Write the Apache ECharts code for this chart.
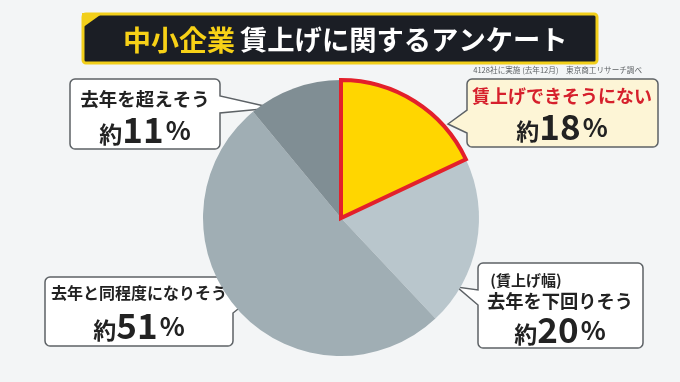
<!DOCTYPE html>
<html><head><meta charset="utf-8">
<script src="https://cdn.jsdelivr.net/npm/echarts@6/dist/echarts.min.js"></script>
<style>html,body{margin:0;padding:0;background:#f3f5f6}#c{width:680px;height:382px}</style>
</head><body><div id="c"></div>
<script>
// ---- data (clockwise from 12 o'clock) ----
var categories = ['賃上げできそうにない', '去年を下回りそう', '去年と同程度になりそう', '去年を超えそう'];
var prefixes   = ['', '(賃上げ幅)', '', ''];
var values     = [18, 20, 51, 11];
var titleMain  = '中小企業';
var titleSub   = '賃上げに関するアンケート';
var sourceText = '4128社に実施 (去年12月)　東京商工リサーチ調べ';

// ---- styles / layout ----
var sliceColors = ['#ffd600', '#b9c6cc', '#a0aeb4', '#808e94'];
var nameStyle   = ['r', 'n2', 's', 'n'];
var labelPos    = [[562, 114], [560, 309], [139, 311], [145, 117]];
var FONT = '"Noto Sans CJK JP", "Noto Sans", sans-serif';

var bubbles = [
  {x0: 467, y0: 79, x1: 658, y1: 147, side: 'left',  t0: 110, t1: 133, tx: 448, ty: 124, fill: '#fdf5d6'},
  {x0: 478, y0: 263, x1: 643, y1: 348, side: 'left', t0: 290, t1: 305, tx: 457, ty: 287, fill: '#ffffff'},
  {x0: 45, y0: 277, x1: 233, y1: 346, side: 'right', t0: 290, t1: 313, tx: 277, ty: 278, fill: '#ffffff'},
  {x0: 70, y0: 79, x1: 220, y1: 149, side: 'right',  t0: 96, t1: 113, tx: 273, ty: 108, fill: '#ffffff'}
];

function corner(pts, cx, cy, r, a0, a1) {
  for (var k = 0; k <= 4; k++) {
    var a = (a0 + (a1 - a0) * k / 4) * Math.PI / 180;
    pts.push([cx + r * Math.cos(a), cy + r * Math.sin(a)]);
  }
}
function bubblePoints(b) {
  var r = 5, pts = [];
  corner(pts, b.x1 - r, b.y0 + r, r, -90, 0);
  if (b.side === 'right') { pts.push([b.x1, b.t0]); pts.push([b.tx, b.ty]); pts.push([b.x1, b.t1]); }
  corner(pts, b.x1 - r, b.y1 - r, r, 0, 90);
  corner(pts, b.x0 + r, b.y1 - r, r, 90, 180);
  if (b.side === 'left') { pts.push([b.x0, b.t1]); pts.push([b.tx, b.ty]); pts.push([b.x0, b.t0]); }
  corner(pts, b.x0 + r, b.y0 + r, r, 180, 270);
  return pts;
}

var graphics = [
  {type: 'rect', shape: {x: 83, y: 14, width: 514, height: 49, r: 3},
   style: {fill: '#1b1e25', stroke: '#f2cf1a', lineWidth: 3}, z: 0},
  {type: 'polygon', shape: {points: [[82, 13], [103, 13], [82, 28]]},
   style: {fill: '#f2cf1a'}, z: 1}
];
bubbles.forEach(function (b) {
  graphics.push({type: 'polygon', shape: {points: bubblePoints(b)},
    style: {fill: b.fill, stroke: '#5d6266', lineWidth: 1.5, lineJoin: 'miter'}, z: 0});
});

// rotate so the highlighted slice is drawn last (on top), keeping clockwise order from 12 o'clock
var total = values.reduce(function (a, v) { return a + v; }, 0);
var order = [1, 2, 3, 0];
var startAngle = 90 - 360 * values[0] / total;
var seriesData = order.map(function (i) {
  var item = {
    name: categories[i], value: values[i], idx: i,
    itemStyle: {color: sliceColors[i], borderWidth: 0}
  };
  if (i === 0) item.itemStyle = {color: sliceColors[0], borderColor: '#e3202b', borderWidth: 4, borderJoin: 'miter'};
  return item;
});

var numRich = {
  y:  {fontFamily: FONT, fontWeight: 'bold', fontSize: 23, color: '#222', lineHeight: 36, verticalAlign: 'bottom', padding: [0, 0, 2, 0]},
  v:  {fontFamily: FONT, fontWeight: 'bold', fontSize: 35, color: '#222', lineHeight: 36},
  pc: {fontFamily: FONT, fontWeight: 'bold', fontSize: 26, color: '#222', lineHeight: 36, padding: [0, 0, 0, 2]},
  n:  {fontFamily: FONT, fontWeight: 'bold', fontSize: 18.5, color: '#222', lineHeight: 26},
  r:  {fontFamily: FONT, fontWeight: 'bold', fontSize: 18, color: '#d6202c', lineHeight: 26},
  s:  {fontFamily: FONT, fontWeight: 'bold', fontSize: 16, color: '#222', lineHeight: 30},
  n2: {fontFamily: FONT, fontWeight: 'bold', fontSize: 18.3, color: '#222', lineHeight: 22},
  p:  {fontFamily: FONT, fontWeight: 'bold', fontSize: 15, color: '#222', lineHeight: 20, padding: [0, 68, 0, 0]}
};

var chart = echarts.init(document.getElementById('c'), null, {renderer: 'canvas'});
chart.setOption({
  backgroundColor: '#f3f5f6',
  animation: false,
  title: [
    {text: '{a|' + titleMain + '} {b|' + titleSub + '}', left: 123, top: 24, padding: 0,
     textStyle: {rich: {
       a: {fontFamily: FONT, fontWeight: 'bold', fontSize: 28, color: '#f7d117', lineHeight: 32},
       b: {fontFamily: FONT, fontWeight: 'bold', fontSize: 27.3, color: '#ffffff', lineHeight: 32}
     }}},
    {text: sourceText, right: 38, top: 66, padding: 0,
     textStyle: {fontFamily: FONT, fontSize: 7.6, fontWeight: 'normal', color: '#5f6366'}}
  ],
  graphic: graphics,
  series: [{
    type: 'pie',
    center: [341, 218],
    radius: [0, 138],
    startAngle: startAngle,
    clockwise: true,
    silent: true,
    avoidLabelOverlap: false,
    emphasis: {disabled: true},
    data: seriesData,
    labelLine: {show: false},
    label: {
      show: true,
      position: 'outside',
      overflow: 'none',
      width: 300,
      rich: numRich,
      formatter: function (p) {
        var i = p.data.idx;
        var s = '';
        if (prefixes[i]) s += '{p|' + prefixes[i] + '}\n';
        s += '{' + nameStyle[i] + '|' + p.name + '}\n';
        s += '{y|約}{v|' + p.value + '}{pc|%}';
        return s;
      }
    },
    labelLayout: function (params) {
      var i = seriesData[params.dataIndex].idx;
      return {x: labelPos[i][0], y: labelPos[i][1], align: 'center', verticalAlign: 'middle', hideOverlap: false};
    }
  }]
});
</script></body></html>
